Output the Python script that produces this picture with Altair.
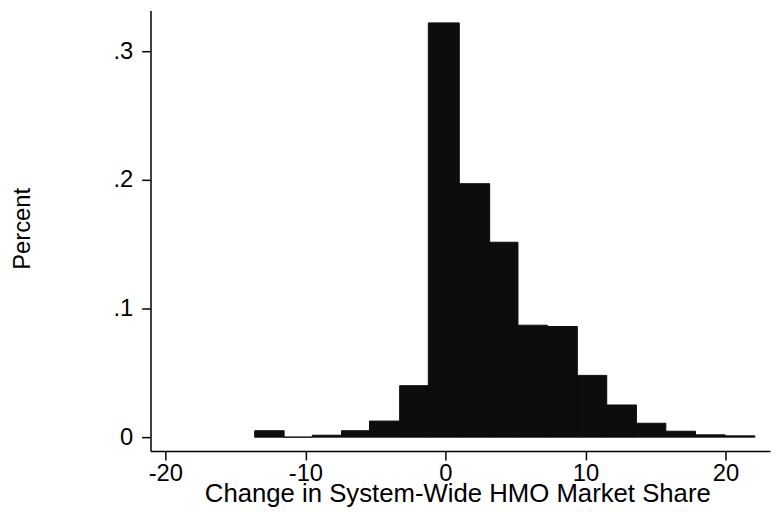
import altair as alt
import pandas as pd

# Histogram bin edges (change in system-wide HMO market share)
bin_left = [-13.62, -11.52, -9.50, -7.42, -5.42, -3.27, -1.22, 0.99, 3.16,
            5.18, 7.28, 9.42, 11.52, 13.64, 15.74, 17.86, 19.98]
bin_right = [-11.52, -9.50, -7.42, -5.42, -3.27, -1.22, 0.99, 3.16, 5.18,
             7.28, 9.42, 11.52, 13.64, 15.74, 17.86, 19.98, 22.10]
# Fraction of observations in each bin
fraction = [0.005, 0.0, 0.0015, 0.005, 0.0125, 0.040, 0.322, 0.197, 0.1515,
            0.087, 0.086, 0.048, 0.025, 0.0108, 0.0046, 0.0018, 0.0010]

x_ticks = [-20, -10, 0, 10, 20]
y_ticks = [0, 0.1, 0.2, 0.3]

df = pd.DataFrame({"lo": bin_left, "hi": bin_right, "pct": fraction})

FONT = "Liberation Sans"

chart = alt.Chart(df).mark_rect(color="#0d0d0d", stroke="#0d0d0d", strokeWidth=1).encode(
    x=alt.X("lo:Q",
            scale=alt.Scale(domain=[-21.06, 23.18], nice=False, zero=False),
            axis=alt.Axis(values=x_ticks, title="Change in System-Wide HMO Market Share",
                          labelExpr="'' + datum.value", labelFontSize=24,
                          labelPadding=2, titleFontSize=26,
                          titleX=310, titleY=51, titleBaseline="alphabetic",
                          titleFontWeight="normal")),
    x2="hi:Q",
    y=alt.Y("pct:Q",
            scale=alt.Scale(domain=[-0.01077, 0.33154], nice=False, zero=False),
            axis=alt.Axis(values=y_ticks, title="Percent",
                          labelExpr="datum.value == 0 ? '0' : '.' + format(datum.value * 10, '.0f')",
                          labelFontSize=24, labelPadding=9, titleFontSize=24,
                          titleFontWeight="normal", titleAngle=270,
                          titleX=-122, titleY=220, titleBaseline="alphabetic",
                          titleAlign="center")),
    y2=alt.datum(0),
).properties(
    width=626, height=445,
    autosize=alt.AutoSizeParams(type="none"),
    padding={"left": 144, "top": 0, "right": 2, "bottom": 59},
).configure_view(stroke=None).configure_axis(
    grid=False, domainColor="black", domainWidth=1.5, tickColor="black",
    tickWidth=1.5, tickSize=9, labelColor="black", titleColor="black",
    labelFont=FONT, titleFont=FONT,
)

chart.save("out.html", embed_options={"renderer": "svg", "actions": False})
